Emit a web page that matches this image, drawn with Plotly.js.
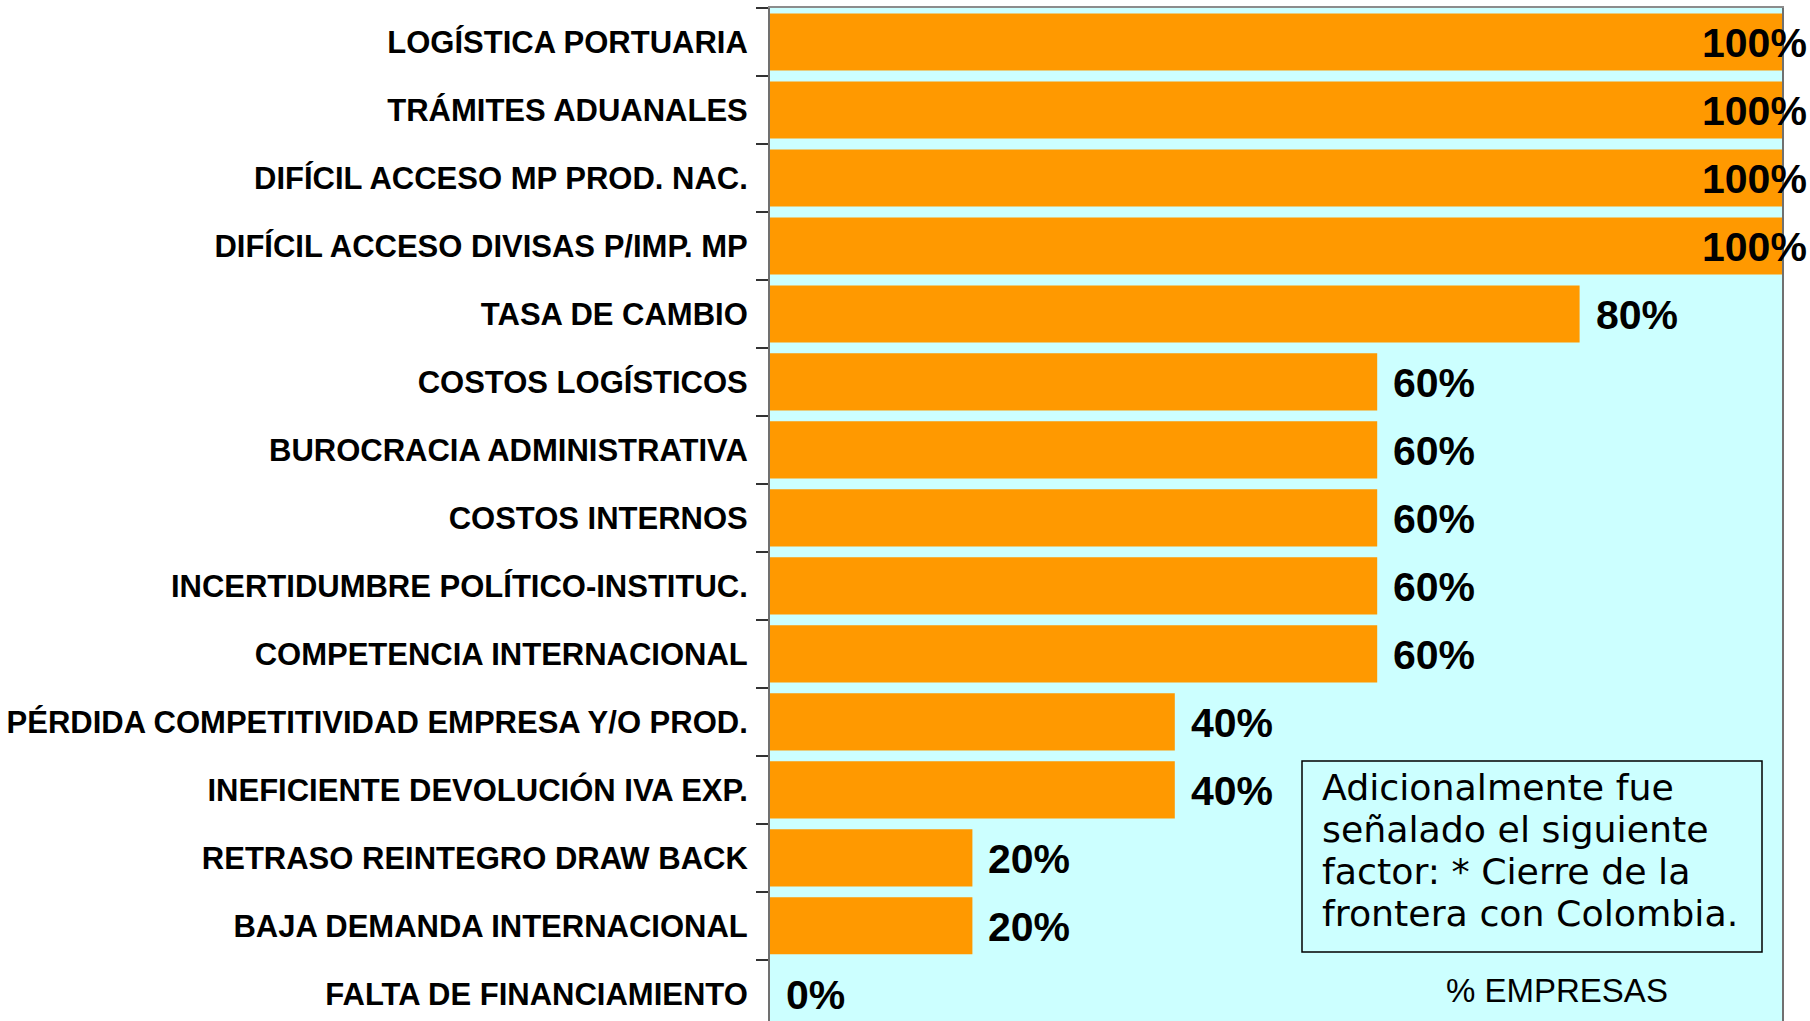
<!DOCTYPE html>
<html>
<head>
<meta charset="utf-8">
<script src="https://cdn.plot.ly/plotly-3.0.1.min.js"></script>
<style>
  html, body { margin: 0; padding: 0; background: #ffffff; }
  #chart { width: 1810px; height: 1021px; }
</style>
</head>
<body>
<div id="chart"></div>
<script>
// ---- data ----
const factors = [
  "LOGÍSTICA PORTUARIA",
  "TRÁMITES ADUANALES",
  "DIFÍCIL ACCESO MP PROD. NAC.",
  "DIFÍCIL ACCESO DIVISAS P/IMP. MP",
  "TASA DE CAMBIO",
  "COSTOS LOGÍSTICOS",
  "BUROCRACIA ADMINISTRATIVA",
  "COSTOS INTERNOS",
  "INCERTIDUMBRE POLÍTICO-INSTITUC.",
  "COMPETENCIA INTERNACIONAL",
  "PÉRDIDA COMPETITIVIDAD EMPRESA Y/O PROD.",
  "INEFICIENTE DEVOLUCIÓN IVA EXP.",
  "RETRASO REINTEGRO DRAW BACK",
  "BAJA DEMANDA INTERNACIONAL",
  "FALTA DE FINANCIAMIENTO"
];
const pctEmpresas = [100, 100, 100, 100, 80, 60, 60, 60, 60, 60, 40, 40, 20, 20, 0];
const axisTitle = "% EMPRESAS";
const noteLines = [
  "Adicionalmente fue",
  "señalado el siguiente",
  "factor: * Cierre de la",
  "frontera con Colombia."
];

// ---- layout helpers (pixel -> paper) ----
const W = 1810, H = 1021;
const M = { l: 770, r: 28, t: 8, b: 0 };
const PW = W - M.l - M.r, PH = H - M.t - M.b;
const px = x => (x - M.l) / PW;
const py = y => (H - M.b - y) / PH;

const trace = {
  type: "bar",
  orientation: "h",
  y: factors,
  x: pctEmpresas,
  marker: { color: "#FF9900", line: { width: 0 } },
  hoverinfo: "skip",
  showlegend: false
};

const annotations = [];
factors.forEach((f, i) => {
  const v = pctEmpresas[i];
  const full = v >= 100;
  annotations.push({
    x: v, y: f, xref: "x", yref: "y",
    text: v + "%",
    showarrow: false,
    xanchor: full ? "right" : "left",
    xshift: full ? 27 : 14,
    yshift: -1,
    font: { family: "Liberation Sans, Arial, sans-serif", size: 41, color: "#000", weight: "bold" }
  });
});
noteLines.forEach((t, k) => {
  annotations.push({
    x: px(1320), y: py(787 + k * 42.3), xref: "paper", yref: "paper",
    text: t, showarrow: false, xanchor: "left", yanchor: "middle",
    font: { family: "DejaVu Sans, Verdana, sans-serif", size: 36.3, color: "#000" }
  });
});
annotations.push({
  x: px(1557), y: py(990), xref: "paper", yref: "paper",
  text: axisTitle, showarrow: false, xanchor: "center", yanchor: "middle",
  font: { family: "Liberation Sans, Arial, sans-serif", size: 33, color: "#000" }
});

const layout = {
  width: W, height: H,
  margin: M,
  paper_bgcolor: "#ffffff",
  plot_bgcolor: "#CCFFFF",
  bargap: 0.16,
  xaxis: {
    range: [0, 100],
    side: "top",
    showgrid: false, zeroline: false,
    showticklabels: false, ticks: "",
    showline: true, linecolor: "#8c8c8c", linewidth: 2
  },
  yaxis: {
    type: "category",
    categoryorder: "array", categoryarray: factors,
    range: [14.4, -0.5],
    showgrid: false, zeroline: false,
    showline: true, mirror: true, linecolor: "#707070", linewidth: 2,
    ticks: "outside", tickson: "boundaries", ticklen: 12, tickwidth: 1.5, tickcolor: "#333",
    ticklabelstandoff: 14,
    tickfont: { family: "Liberation Sans, Arial, sans-serif", size: 31, color: "#000", weight: "bold" }
  },
  shapes: [{
    type: "rect", xref: "paper", yref: "paper",
    x0: px(1302), x1: px(1762), y0: py(952), y1: py(761),
    line: { color: "#000", width: 1.5 }, fillcolor: "rgba(0,0,0,0)"
  }],
  annotations: annotations
};

Plotly.newPlot("chart", [trace], layout, { staticPlot: true, displayModeBar: false });
</script>
</body>
</html>
